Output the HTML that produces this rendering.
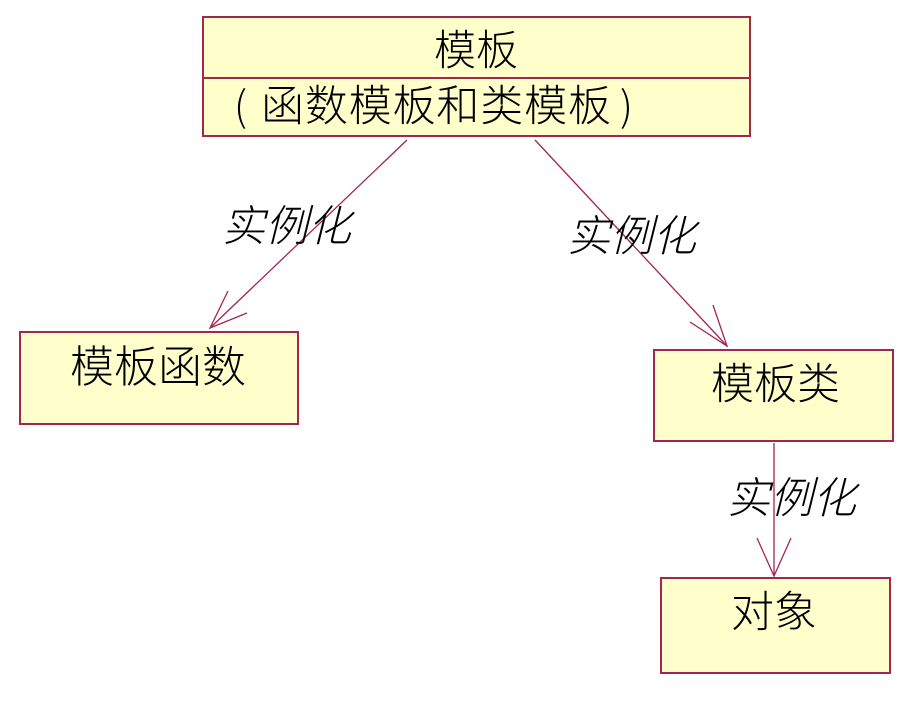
<!DOCTYPE html>
<html><head><meta charset="utf-8"><style>
body{margin:0;background:#fff;width:921px;height:699px;overflow:hidden}
text{font-family:"Noto Sans CJK SC",sans-serif;fill:#000;font-weight:300}
.i{font-style:italic}
</style></head><body>
<svg width="921" height="699" xmlns="http://www.w3.org/2000/svg">
<g fill="#ffffcc" stroke="#a3264f" stroke-width="2">
<rect x="203" y="17" width="547" height="119"/>
<line x1="203" y1="78" x2="750" y2="78"/>
<rect x="20" y="332" width="278" height="92"/>
<rect x="654" y="350" width="239" height="91"/>
<rect x="661" y="578" width="229" height="95"/>
</g>
<g stroke="#a3264f" stroke-width="1.3" fill="none">
<line x1="407" y1="140" x2="210" y2="328"/>
<polyline points="228,291 210,328 247,313"/>
<line x1="535" y1="140" x2="727" y2="346"/>
<polyline points="690,322 727,346 713,305"/>
<line x1="774" y1="443" x2="774" y2="576"/>
<polyline points="757,538 774,576 791,538"/>
</g>
<text x="476" y="65" font-size="42" text-anchor="middle">模板</text>
<text x="234" y="121" font-size="41">(</text>
<text x="261" y="121" font-size="43" textLength="350">函数模板和类模板</text>
<text x="620" y="121" font-size="41">)</text>
<text x="70" y="382" font-size="44">模板函数</text>
<text x="711" y="399" font-size="43">模板类</text>
<text x="731" y="627" font-size="43">对象</text>
<text class="i" x="222" y="241" font-size="43">实例化</text>
<text class="i" x="567" y="251" font-size="43">实例化</text>
<text class="i" x="727" y="513" font-size="43">实例化</text>
</svg>
</body></html>
